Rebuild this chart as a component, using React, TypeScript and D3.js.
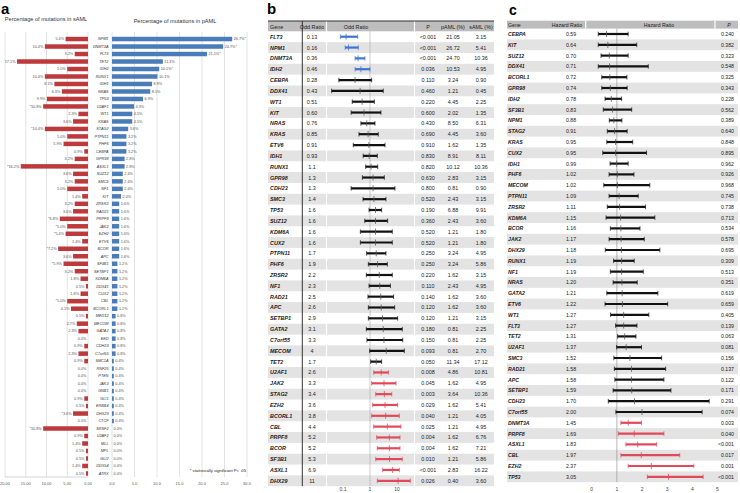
import * as d3 from 'd3'

// ---- panel a: mutation frequencies ----
const aGenes = ['NPM1', 'DNMT3A', 'FLT3', 'TET2', 'IDH2', 'RUNX1', 'IDH1', 'NRAS', 'TP53', 'U2AF1', 'WT1', 'KRAS', 'STAG2', 'PTPN11', 'PHF6', 'CEBPA', 'GPR98', 'ASXL1', 'SUZ12', 'SMC3', 'NF1', 'KIT', 'ZRSR2', 'RAD21', 'PRPF8', 'JAK2', 'EZH2', 'ETV6', 'BCOR', 'APC', 'SF3B1', 'SETBP1', 'KDM6A', 'DDX41', 'CUX2', 'CBL', 'BCORL1', 'MED12', 'MECOM', 'GATA2', 'EED', 'CDH23', 'C7orf55', 'SMC1A', 'RNF25', 'PTEN', 'JAK3', 'GNB1', 'GLI1', 'ERBB4', 'DHX29', 'CTCF', 'SRSF2', 'U2AF2', 'MLL', 'MPL', 'GLI2', 'DDX54', 'ATRX']
const aPaml = [26.7, 24.7, 21.1, 11.3, 10.5, 10.1, 8.9, 8.5, 6.9, 4.9, 4.5, 4.5, 3.6, 3.2, 3.2, 3.2, 2.8, 2.8, 2.4, 2.4, 2.4, 2.0, 1.6, 1.6, 1.6, 1.6, 1.6, 1.6, 1.6, 1.6, 1.2, 1.2, 1.2, 1.2, 1.2, 1.2, 1.2, 0.8, 0.8, 0.8, 0.8, 0.8, 0.8, 0.4, 0.4, 0.4, 0.4, 0.4, 0.4, 0.4, 0.4, 0.4, 0.0, 0.0, 0.0, 0.0, 0.0, 0.0, 0.0]
const aSaml = [5.4, 10.4, 3.2, 17.1, 5.0, 10.4, 8.1, 6.3, 9.9, 10.8, 2.3, 3.6, 10.4, 5.0, 5.9, 0.9, 3.2, 16.2, 3.6, 3.2, 5.0, 1.4, 3.2, 3.6, 6.8, 5.0, 5.4, 1.4, 7.2, 3.6, 5.9, 3.2, 1.8, 0.5, 1.8, 5.0, 4.1, 0.5, 2.7, 2.3, 0.0, 0.9, 2.3, 0.9, 0.0, 0.0, 0.0, 0.0, 0.9, 0.5, 3.6, 0.0, 10.8, 0.9, 1.4, 0.5, 0.5, 1.4, 0.5]
const aPamlSig = ['NPM1', 'DNMT3A', 'FLT3', 'IDH2']
const aSamlSig = ['U2AF1', 'STAG2', 'ASXL1', 'PRPF8', 'JAK2', 'EZH2', 'BCOR', 'SF3B1', 'CBL', 'DHX29', 'SRSF2']
const aLeftTicks = [20, 15, 10, 5, 0]
const aRightTicks = [0, 5, 10, 15, 20, 25, 30]

// ---- panel b: odds ratios pAML vs sAML ----
const bGenes = ['FLT3', 'NPM1', 'DNMT3A', 'IDH2', 'CEBPA', 'DDX41', 'WT1', 'KIT', 'NRAS', 'KRAS', 'ETV6', 'IDH1', 'RUNX1', 'GPR98', 'CDH23', 'SMC3', 'TP53', 'SUZ12', 'KDM6A', 'CUX2', 'PTPN11', 'PHF6', 'ZRSR2', 'NF1', 'RAD21', 'APC', 'SETBP1', 'GATA2', 'C7orf55', 'MECOM', 'TET2', 'U2AF1', 'JAK2', 'STAG2', 'EZH2', 'BCORL1', 'CBL', 'PRPF8', 'BCOR', 'SF3B1', 'ASXL1', 'DHX29']
const bOR = [0.13, 0.16, 0.36, 0.46, 0.28, 0.43, 0.51, 0.60, 0.76, 0.85, 0.91, 0.93, 1.1, 1.3, 1.3, 1.4, 1.6, 1.6, 1.6, 1.6, 1.7, 1.9, 2.2, 2.3, 2.5, 2.6, 2.9, 3.1, 3.3, 4, 1.7, 2.6, 3.3, 3.4, 3.6, 3.8, 4.4, 5.2, 5.2, 5.3, 6.9, 11]
const bLo = [0.08, 0.12, 0.28, 0.28, 0.07, 0.038, 0.22, 0.2, 0.46, 0.39, 0.24, 0.56, 0.69, 0.52, 0.2, 0.55, 0.92, 0.64, 0.44, 0.44, 0.75, 0.87, 0.73, 0.92, 0.84, 0.87, 0.87, 0.73, 0.77, 0.97, 1.06, 1.37, 1.15, 1.63, 1.25, 1.15, 1.37, 1.77, 1.87, 1.63, 2.95, 1.87]
const bHi = [0.35, 0.37, 0.65, 1.0, 1.15, 3.1, 1.45, 2.55, 1.53, 2.03, 3.6, 1.87, 1.93, 3.4, 8.4, 3.9, 2.7, 4.5, 6.7, 6.7, 3.9, 4.4, 6.7, 5.7, 7.5, 8.2, 10.6, 15.7, 16.3, 18.7, 2.7, 4.8, 9.2, 6.4, 10.6, 12.2, 14, 12.9, 12.9, 15.7, 12.2, 31]
const bP = ['<0.001', '<0.001', '<0.001', '0.036', '0.110', '0.460', '0.220', '0.600', '0.430', '0.690', '0.910', '0.830', '0.820', '0.630', '0.800', '0.520', '0.190', '0.360', '0.520', '0.520', '0.250', '0.250', '0.220', '0.110', '0.140', '0.120', '0.120', '0.180', '0.150', '0.093', '0.050', '0.008', '0.045', '0.003', '0.029', '0.040', '0.025', '0.004', '0.004', '0.010', '<0.001', '0.026']
const bPaml = ['21.05', '26.72', '24.70', '10.53', '3.24', '1.21', '4.45', '2.02', '8.50', '4.45', '1.62', '8.91', '10.12', '2.83', '0.81', '2.43', '6.88', '2.43', '1.21', '1.21', '3.24', '3.24', '1.62', '2.43', '1.62', '1.62', '1.21', '0.81', '0.81', '0.81', '11.34', '4.86', '1.62', '3.64', '1.62', '1.21', '1.21', '1.62', '1.62', '1.21', '2.83', '0.40']
const bSaml = ['3.15', '5.41', '10.36', '4.95', '0.90', '0.45', '2.25', '1.35', '6.31', '3.60', '1.35', '8.11', '10.36', '3.15', '0.90', '3.15', '9.91', '3.60', '1.80', '1.80', '4.95', '5.86', '3.15', '4.95', '3.60', '3.60', '3.15', '2.25', '2.25', '2.70', '17.12', '10.81', '4.95', '10.36', '5.41', '4.05', '4.95', '6.76', '7.21', '5.86', '16.22', '3.60']
const bGroup = [...Array(4).fill('blue'), ...Array(27).fill('black'), ...Array(11).fill('red')]
const bTicks = [0.1, 1, 10]

// ---- panel c: hazard ratios ----
const cGenes = ['CEBPA', 'KIT', 'SUZ12', 'DDX41', 'BCORL1', 'GPR98', 'IDH2', 'SF3B1', 'NPM1', 'STAG2', 'KRAS', 'CUX2', 'IDH1', 'PHF6', 'MECOM', 'PTPN11', 'ZRSR2', 'KDM6A', 'BCOR', 'JAK2', 'DHX29', 'RUNX1', 'NF1', 'NRAS', 'GATA2', 'ETV6', 'WT1', 'FLT3', 'TET2', 'U2AF1', 'SMC3', 'RAD21', 'APC', 'SETBP1', 'CDH23', 'C7orf55', 'DNMT3A', 'PRPF8', 'ASXL1', 'CBL', 'EZH2', 'TP53']
const cHR = [0.59, 0.64, 0.70, 0.71, 0.72, 0.74, 0.78, 0.83, 0.88, 0.91, 0.95, 0.95, 0.99, 1.02, 1.02, 1.09, 1.11, 1.15, 1.16, 1.17, 1.18, 1.19, 1.19, 1.20, 1.21, 1.22, 1.27, 1.27, 1.31, 1.37, 1.52, 1.58, 1.58, 1.59, 1.70, 2.00, 1.45, 1.69, 1.83, 1.97, 2.37, 3.05]
const cLo = [0.26, 0.26, 0.37, 0.26, 0.40, 0.40, 0.53, 0.46, 0.70, 0.62, 0.60, 0.44, 0.73, 0.69, 0.48, 0.69, 0.62, 0.57, 0.74, 0.69, 0.54, 0.87, 0.74, 0.85, 0.60, 0.53, 0.75, 0.95, 1.03, 0.99, 0.88, 0.90, 0.92, 0.85, 0.66, 0.96, 1.16, 1.06, 1.36, 1.16, 1.45, 2.21]
const cHi = [1.45, 1.79, 1.45, 2.25, 1.40, 1.41, 1.19, 1.59, 1.20, 1.41, 1.63, 2.18, 1.45, 1.68, 2.31, 1.85, 2.14, 2.51, 1.92, 2.09, 2.71, 1.69, 2.05, 1.81, 2.63, 3.02, 2.27, 1.80, 1.76, 1.98, 2.78, 2.94, 2.87, 3.15, 4.67, 4.39, 1.98, 2.87, 2.58, 3.50, 4.06, 4.43]
const cP = ['0.240', '0.382', '0.323', '0.548', '0.325', '0.343', '0.228', '0.562', '0.389', '0.640', '0.848', '0.895', '0.962', '0.926', '0.968', '0.745', '0.738', '0.713', '0.534', '0.578', '0.695', '0.309', '0.513', '0.351', '0.619', '0.659', '0.405', '0.139', '0.063', '0.081', '0.156', '0.137', '0.122', '0.171', '0.291', '0.074', '0.003', '0.040', '<0.001', '0.017', '0.001', '<0.001']
const cGroup = [...Array(36).fill('black'), ...Array(6).fill('red')]
const cTicks = [0, 1, 2, 3, 4, 5]

const narrow = "'Liberation Sans Narrow', 'Arial Narrow', 'Liberation Sans', Arial, sans-serif"
const sans = "'Liberation Sans', Arial, sans-serif"
const ciColor: Record<string, string> = { blue: '#3f72d6', black: '#111111', red: '#e2485a' }
const headGray = '#bdbdbd'
const rowGray = '#e3e3e3'

function PanelA() {
  const xL = d3.scaleLinear().domain([0, 20]).range([88, 5])
  const xR = d3.scaleLinear().domain([0, 25]).range([112, 224.5])
  const y = d3.scaleBand<number>().domain(d3.range(aGenes.length)).range([35.3, 477.2]).paddingInner(0.4).paddingOuter(0.2)
  const bw = y.bandwidth()
  return (
    <g>
      <text x={1} y={14} fontFamily={sans} fontWeight="bold" fontSize={15}>a</text>
      <text x={46} y={21} textAnchor="middle" fontFamily={narrow} fontSize={5.6} fill="#333">Percentage of mutations in sAML</text>
      <text x={175} y={23} textAnchor="middle" fontFamily={narrow} fontSize={5.6} fill="#333">Percentage of mutations in pAML</text>
      {aLeftTicks.map(t => (
        <g key={'l' + t}>
          <line x1={xL(t)} x2={xL(t)} y1={32} y2={477} stroke="#dcdcdc" strokeWidth={0.8} />
          <text x={xL(t)} y={485} textAnchor="middle" fontFamily={narrow} fontSize={4} fill="#555">{d3.format('.2f')(t)}</text>
        </g>
      ))}
      {aRightTicks.map(t => (
        <g key={'r' + t}>
          <line x1={xR(t)} x2={xR(t)} y1={32} y2={477} stroke="#dcdcdc" strokeWidth={0.8} />
          <text x={xR(t)} y={485} textAnchor="middle" fontFamily={narrow} fontSize={4} fill="#555">{d3.format('.1f')(t)}</text>
        </g>
      ))}
      <line x1={xL(20)} x2={xL(0)} y1={477} y2={477} stroke="#bbb" strokeWidth={0.6} />
      {aGenes.map((g, i) => {
        const cy = (y(i) ?? 0) + bw / 2
        const s = aSaml[i]
        const p = aPaml[i]
        return (
          <g key={g}>
            <rect x={xL(s)} y={y(i)} width={xL(0) - xL(s)} height={bw} fill="#bd3a3c" />
            <rect x={xR(0)} y={y(i)} width={xR(p) - xR(0)} height={bw} fill="#4a7cba" />
            <text x={xL(s) - 1.5} y={cy + 1.3} textAnchor="end" fontFamily={narrow} fontSize={3.8} fill="#555">
              {(aSamlSig.includes(g) ? '*' : '') + s.toFixed(1) + '%'}
            </text>
            <text x={xR(p) + 1.5} y={cy + 1.3} fontFamily={narrow} fontSize={3.8} fill="#555">
              {p.toFixed(1) + '%' + (aPamlSig.includes(g) ? '*' : '')}
            </text>
            <text x={108.5} y={cy + 1.3} textAnchor="end" fontFamily={narrow} fontStyle="italic" fontSize={3.8} fill="#333">{g}</text>
          </g>
        )
      })}
      <text x={246} y={472} textAnchor="end" fontFamily={narrow} fontSize={4.2} fill="#222">* statistically significant P&lt; .05</text>
    </g>
  )
}

function CI({ x1, x2, xm, cy, color }: { x1: number; x2: number; xm: number; cy: number; color: string }) {
  return (
    <g>
      <line x1={x1} x2={x2} y1={cy} y2={cy} stroke={color} strokeWidth={2.2} />
      <line x1={x1} x2={x1} y1={cy - 2.3} y2={cy + 2.3} stroke={color} strokeWidth={0.7} />
      <line x1={x2} x2={x2} y1={cy - 2.3} y2={cy + 2.3} stroke={color} strokeWidth={0.7} />
      <line x1={xm} x2={xm} y1={cy - 3} y2={cy + 3} stroke={color === '#111111' ? '#555' : color} strokeWidth={0.8} />
    </g>
  )
}

function PanelB() {
  const x = d3.scaleLog().domain([0.1, 10]).range([343, 397])
  const y = d3.scaleBand<number>().domain(d3.range(bGenes.length)).range([31.3, 486.2])
  const h = y.bandwidth()
  const left = 268
  const right = 494
  return (
    <g>
      <text x={267} y={14} fontFamily={sans} fontWeight="bold" fontSize={15}>b</text>
      <rect x={left} y={21} width={right - left} height={10.3} fill={headGray} />
      {bGenes.map((g, i) => (i % 2 === 1 ? <rect key={g} x={left} y={y(i)} width={right - left} height={h} fill={rowGray} /> : null))}
      {[326.5, 414.5].map(v => <line key={v} x1={v} x2={v} y1={21} y2={486.2} stroke="#fff" strokeWidth={1.2} />)}
      <line x1={left} x2={right} y1={21} y2={21} stroke="#333" strokeWidth={1.2} />
      <line x1={x(1)} x2={x(1)} y1={31.3} y2={486.2} stroke="#9a9a9a" strokeWidth={0.5} />
      <line x1={302.3} x2={302.3} y1={21} y2={486.2} stroke="#333" strokeWidth={1} />
      <g fontFamily={narrow} fontSize={5.4} fill="#222">
        <text x={270} y={28.5}>Gene</text>
        <text x={312} y={28.5} textAnchor="middle">Odd Ratio</text>
        <text x={356} y={28.5} textAnchor="middle">Odd Ratio</text>
        <text x={428} y={28.5} textAnchor="middle">P</text>
        <text x={453} y={28.5} textAnchor="middle">pAML (%)</text>
        <text x={481} y={28.5} textAnchor="middle">sAML (%)</text>
      </g>
      {bGenes.map((g, i) => {
        const cy = (y(i) ?? 0) + h / 2
        const v = bOR[i]
        return (
          <g key={g} fontFamily={narrow} fontSize={5.4} fill="#222">
            <text x={270} y={cy + 2} fontStyle="italic" fontWeight="bold">{g}</text>
            <text x={312} y={cy + 2} textAnchor="middle">{v < 1 ? v.toFixed(2) : String(v)}</text>
            <text x={428} y={cy + 2} textAnchor="middle">{bP[i]}</text>
            <text x={453} y={cy + 2} textAnchor="middle">{bPaml[i]}</text>
            <text x={481} y={cy + 2} textAnchor="middle">{bSaml[i]}</text>
            <CI x1={x(bLo[i])} x2={x(bHi[i])} xm={x(v)} cy={cy} color={ciColor[bGroup[i]]} />
          </g>
        )
      })}
      {bTicks.map(t => (
        <text key={t} x={x(t)} y={491} textAnchor="middle" fontFamily={narrow} fontSize={5} fill="#444">{String(t)}</text>
      ))}
    </g>
  )
}

function PanelC() {
  const x = d3.scaleLinear().domain([0, 5]).range([591.7, 717.5])
  const y = d3.scaleBand<number>().domain(d3.range(cGenes.length)).range([28.6, 482.2])
  const h = y.bandwidth()
  const left = 507
  const right = 738
  return (
    <g>
      <text x={509} y={15} fontFamily={sans} fontWeight="bold" fontSize={14}>c</text>
      <rect x={left} y={20.7} width={right - left} height={7.9} fill={headGray} />
      {cGenes.map((g, i) => (i % 2 === 1 ? <rect key={g} x={left} y={y(i)} width={right - left} height={h} fill={rowGray} /> : null))}
      {[585.7, 715].map(v => <line key={v} x1={v} x2={v} y1={20.7} y2={28.6} stroke="#fff" strokeWidth={1.2} />)}
      <line x1={x(1)} x2={x(1)} y1={28.6} y2={482.2} stroke="#8a8a8a" strokeWidth={0.6} />
      <g fontFamily={narrow} fontSize={5.2} fill="#222">
        <text x={508} y={26.6}>Gene</text>
        <text x={567} y={26.6} textAnchor="middle">Hazard Ratio</text>
        <text x={659} y={26.6} textAnchor="middle">Hazard Ratio</text>
        <text x={729} y={26.6} textAnchor="middle" fontStyle="italic">P</text>
      </g>
      {cGenes.map((g, i) => {
        const cy = (y(i) ?? 0) + h / 2
        return (
          <g key={g} fontFamily={narrow} fontSize={5.2} fill="#222">
            <text x={508} y={cy + 2} fontStyle="italic" fontWeight="bold">{g}</text>
            <text x={571} y={cy + 2} textAnchor="middle">{cHR[i].toFixed(2)}</text>
            <text x={734} y={cy + 2} textAnchor="end">{cP[i]}</text>
            <CI x1={x(cLo[i])} x2={x(cHi[i])} xm={x(cHR[i])} cy={cy} color={ciColor[cGroup[i]]} />
          </g>
        )
      })}
      {cTicks.map(t => (
        <text key={t} x={x(t)} y={491} textAnchor="middle" fontFamily={narrow} fontSize={5} fill="#444">{String(t)}</text>
      ))}
    </g>
  )
}

export default function App() {
  return (
    <svg width={740} height={493} style={{ position: 'absolute', left: 0, top: 0, background: '#fff' }}>
      <rect width={740} height={493} fill="#fff" />
      <PanelA />
      <PanelB />
      <PanelC />
    </svg>
  )
}
